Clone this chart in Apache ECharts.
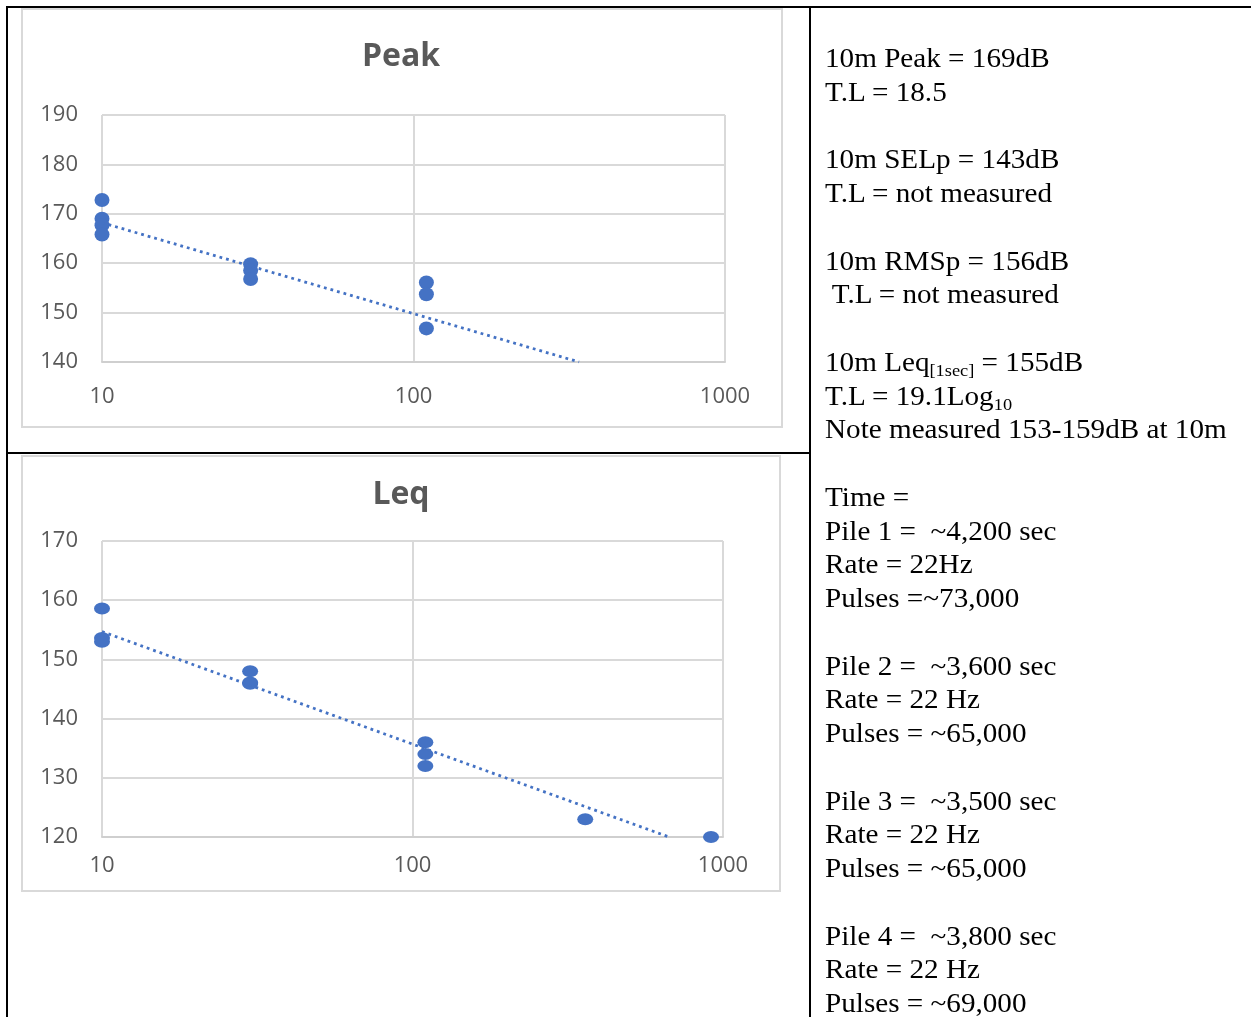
<!DOCTYPE html>
<html>
<head>
<meta charset="utf-8">
<script src="https://cdn.jsdelivr.net/npm/echarts@6/dist/echarts.min.js"></script>
<style>
  html, body { margin:0; padding:0; background:#fff; }
  #chart { position:absolute; left:0; top:0; width:1251px; height:1017px; }
  #notes { position:absolute; left:825px; top:42px; font-family:'Liberation Serif','Times New Roman',serif; font-size:27px; line-height:33.75px; color:#000; white-space:pre; transform:scaleX(1.08); transform-origin:0 0; }
  #notes sub { font-size:17px; line-height:0; vertical-align:-5px; }
</style>
</head>
<body>
<div id="chart"></div>
<div id="notes">10m Peak = 169dB
T.L = 18.5

10m SELp = 143dB
T.L = not measured

10m RMSp = 156dB
 T.L = not measured

10m Leq<sub>[1sec]</sub> = 155dB
T.L = 19.1Log<sub>10</sub>
Note measured 153-159dB at 10m

Time =
Pile 1 =  ~4,200 sec
Rate = 22Hz
Pulses =~73,000

Pile 2 =  ~3,600 sec
Rate = 22 Hz
Pulses = ~65,000

Pile 3 =  ~3,500 sec
Rate = 22 Hz
Pulses = ~65,000

Pile 4 =  ~3,800 sec
Rate = 22 Hz
Pulses = ~69,000</div>
<script>
// ---- data ----
const peakTitle = 'Peak';
const peakDist  = [10, 10, 10, 10, 30, 30, 30, 110, 110, 110];
const peakLevel = [172.8, 169, 167.7, 165.8, 159.8, 158.5, 156.8, 156.1, 153.7, 146.8];
const peakTrendDist  = [10, 340];
const peakTrendLevel = [168.2, 140];
const peakYTicks = [140, 150, 160, 170, 180, 190];

const leqTitle = 'Leq';
const leqDist  = [10, 10, 10, 30, 30, 30, 110, 110, 110, 360, 915];
const leqLevel = [158.6, 153.6, 153, 148, 146.1, 145.9, 136, 134, 132, 123, 120];
const leqTrendDist  = [10, 670];
const leqTrendLevel = [154.7, 120];
const leqYTicks = [120, 130, 140, 150, 160, 170];

const xTicks = [10, 100, 1000];

// ---- chart ----
const blue = '#4472C4';
const grey = '#595959';
const gridGrey = '#d9d9d9';
const font = "'Open Sans', 'DejaVu Sans', sans-serif";

function pairs(xs, ys) { return xs.map((x, i) => [x, ys[i]]); }

function xAxis(gridIndex, margin) {
  return {
    type: 'log', logBase: 10, gridIndex,
    min: xTicks[0], max: xTicks[xTicks.length - 1],
    axisLine: { show: true, lineStyle: { color: '#cfcfcf', width: 2 } },
    axisTick: { show: false },
    splitLine: { show: true, lineStyle: { color: gridGrey, width: 2 } },
    axisLabel: { color: grey, fontFamily: font, fontSize: 22, margin,
      formatter: v => String(Math.round(v)) }
  };
}
function yAxis(gridIndex, ticks) {
  return {
    type: 'value', gridIndex,
    min: ticks[0], max: ticks[ticks.length - 1], interval: ticks[1] - ticks[0],
    axisLine: { show: false }, axisTick: { show: false },
    splitLine: { show: true, lineStyle: { color: gridGrey, width: 2 } },
    axisLabel: { color: grey, fontFamily: font, fontSize: 22, margin: 24 }
  };
}
function frameLine(x1, y1, x2, y2) {
  return { type: 'line', shape: { x1, y1, x2, y2 }, style: { stroke: '#000', lineWidth: 2 }, silent: true };
}

const chart = echarts.init(document.getElementById('chart'), null, { renderer: 'canvas' });
chart.setOption({
  backgroundColor: '#fff',
  animation: false,
  grid: [
    { left: 102, top: 115, width: 623, height: 247 },
    { left: 102, top: 541, width: 621, height: 296 }
  ],
  xAxis: [xAxis(0, 24), xAxis(1, 18)],
  yAxis: [yAxis(0, peakYTicks), yAxis(1, leqYTicks)],
  graphic: [
    { type: 'rect', shape: { x: 22, y: 9, width: 760, height: 418 }, style: { fill: 'none', stroke: gridGrey, lineWidth: 2 }, z: -1 },
    { type: 'rect', shape: { x: 22, y: 456, width: 758, height: 435 }, style: { fill: 'none', stroke: gridGrey, lineWidth: 2 }, z: -1 },
    { type: 'text', x: 401, y: 57, style: { text: peakTitle, fill: grey, font: "bold 32px " + font, textAlign: 'center', textVerticalAlign: 'middle' } },
    { type: 'text', x: 401, y: 495, style: { text: leqTitle, fill: grey, font: "bold 32px " + font, textAlign: 'center', textVerticalAlign: 'middle' } },
    frameLine(6, 7, 1251, 7),
    frameLine(7, 6, 7, 1017),
    frameLine(810, 6, 810, 1017),
    frameLine(7, 453, 810, 453)
  ],
  series: [
    { type: 'scatter', xAxisIndex: 0, yAxisIndex: 0, data: pairs(peakDist, peakLevel),
      symbol: 'circle', symbolSize: [15, 14], itemStyle: { color: blue, opacity: 1 }, z: 2 },
    { type: 'line', xAxisIndex: 0, yAxisIndex: 0, data: pairs(peakTrendDist, peakTrendLevel),
      showSymbol: false, symbol: 'none', lineStyle: { color: blue, width: 2.8, type: [2.8, 4] }, z: 3 },
    { type: 'scatter', xAxisIndex: 1, yAxisIndex: 1, data: pairs(leqDist, leqLevel),
      symbol: 'circle', symbolSize: [16, 12], itemStyle: { color: blue, opacity: 1 }, z: 2 },
    { type: 'line', xAxisIndex: 1, yAxisIndex: 1, data: pairs(leqTrendDist, leqTrendLevel),
      showSymbol: false, symbol: 'none', lineStyle: { color: blue, width: 2.8, type: [2.8, 4] }, z: 3 }
  ]
});
</script>
</body>
</html>
